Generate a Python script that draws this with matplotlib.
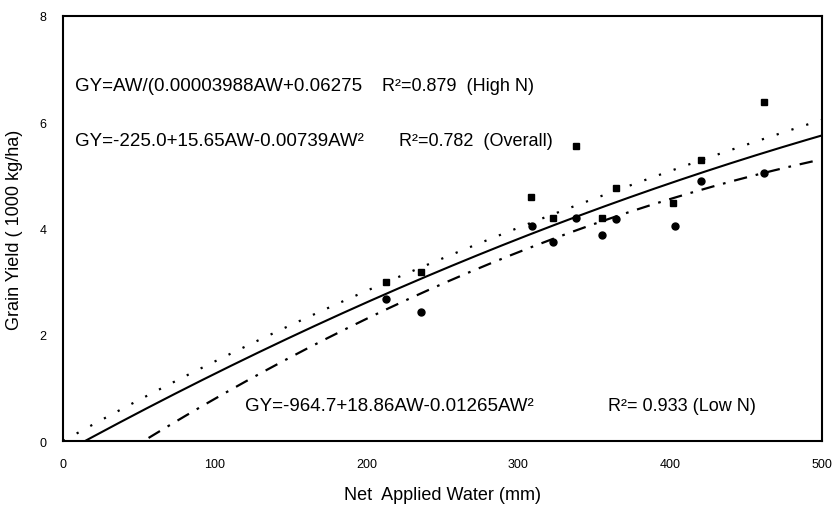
"""Grain yield vs net applied water, with fitted curves"""
import matplotlib
matplotlib.use("Agg")
import matplotlib.pyplot as plt
import numpy as np

plt.rcParams['font.family'] = ['Liberation Sans', 'DejaVu Sans']

# measured points (AW in mm, yield in 1000 kg/ha)
high_n_aw = [213, 236, 308, 323, 338, 355, 364, 402, 420, 462]
high_n_gy = [2.99, 3.18, 4.60, 4.20, 5.56, 4.20, 4.76, 4.48, 5.29, 6.39]
low_n_aw = [213, 236, 309, 323, 338, 355, 364, 403, 420, 462]
low_n_gy = [2.67, 2.42, 4.05, 3.75, 4.20, 3.88, 4.17, 4.05, 4.90, 5.05]

# fitted equations as printed on the chart (kg/ha)
high_a, high_b = 0.00003988, 0.06275
overall_c = [-225.0, 15.65, -0.00739]
low_c = [-964.7, 18.86, -0.01265]

equations = [
    "GY=AW/(0.00003988AW+0.06275",
    "GY=-225.0+15.65AW-0.00739AW²",
    "GY=-964.7+18.86AW-0.01265AW²",
]
r2_texts = ["R²=0.879  (High N)", "R²=0.782  (Overall)", "R²= 0.933 (Low N)"]

fig = plt.figure(figsize=(8.38, 5.1), dpi=100)
ax = fig.add_axes([0.0752, 0.1333, 0.9058, 0.8334])

aw = np.linspace(0, 500, 300)
gy_high = aw / (high_a * aw + high_b) / 1000
gy_all = (overall_c[0] + overall_c[1] * aw + overall_c[2] * aw ** 2) / 1000
gy_low = (low_c[0] + low_c[1] * aw + low_c[2] * aw ** 2) / 1000

ax.plot(aw, gy_high, color='black', lw=1.6, linestyle=(0, (1, 6)))
ax.plot(aw, gy_all, color='black', lw=1.5, linestyle='-')
ax.plot(aw, gy_low, color='black', lw=1.6, linestyle=(0, (6, 4, 1.2, 4)))

ax.plot(high_n_aw, high_n_gy, 's', color='black', ms=5, ls='none')
ax.plot(low_n_aw, low_n_gy, 'o', color='black', ms=5, ls='none')

ax.set_xlim(0, 500)
ax.set_ylim(0, 8)
ax.set_xticks([0, 100, 200, 300, 400, 500])
ax.set_yticks([0, 2, 4, 6, 8])
ax.tick_params(length=0, labelsize=9, pad=12)
for s in ax.spines.values():
    s.set_linewidth(1.5)

# equation text, placed in pieces like the original
eq_x = [8, 8, 120]
eq_y = [6.69, 5.65, 0.66]
r2_x = [210, 221, 359]
for i in range(3):
    ax.text(eq_x[i], eq_y[i], equations[i], fontsize=13.5, va='center', ha='left')
    ax.text(r2_x[i], eq_y[i], r2_texts[i], fontsize=13, va='center', ha='left')

ax.set_xlabel("Net  Applied Water (mm)", fontsize=13, labelpad=12)
ax.set_ylabel("Grain Yield ( 1000 kg/ha)", fontsize=13, labelpad=12)

fig.savefig("out.png", dpi=100)
